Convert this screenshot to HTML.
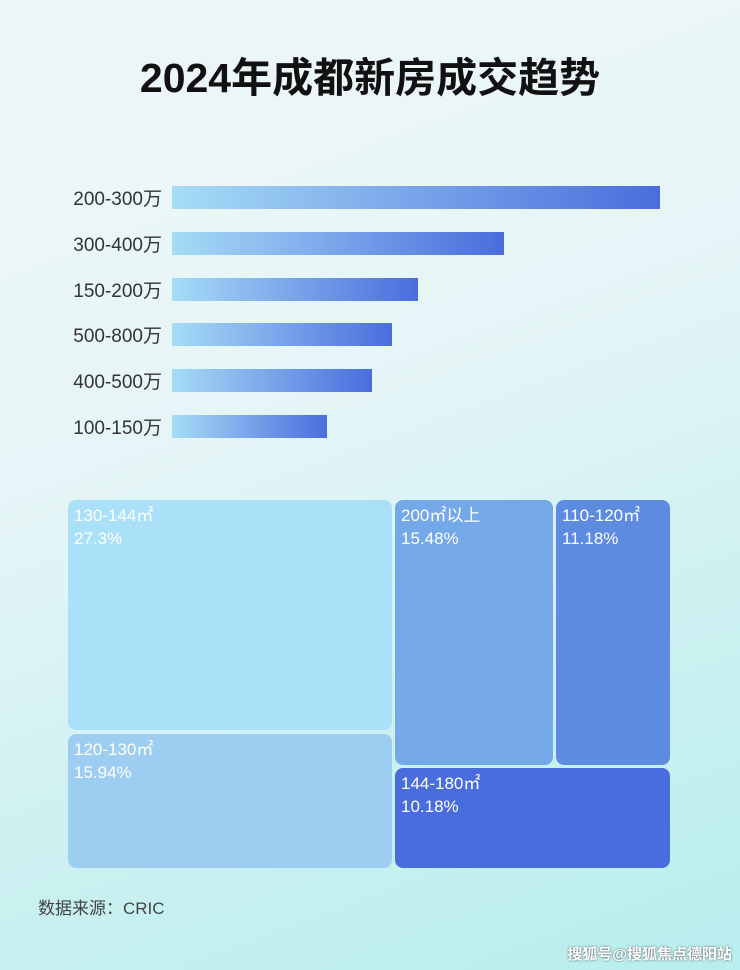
<!DOCTYPE html>
<html><head><meta charset="utf-8"><style>
body{margin:0;width:740px;height:970px;overflow:hidden;font-family:"Liberation Sans","Noto Sans CJK SC",sans-serif;
background:linear-gradient(160deg,#eef7f8 0%,#e6f5f7 40%,#c9f0f0 75%,#b8eeee 100%);position:relative}
.t{position:absolute;left:0;width:740px;top:44px;text-align:center;font-size:41px;font-weight:bold;color:#111}
.lb{position:absolute;left:40px;width:122px;text-align:right;font-size:19px;color:#333;margin-top:-3px}
.bar{position:absolute;left:172px;height:23px;background:linear-gradient(90deg,#a6dcf6,#4a6ddd)}
.b{position:absolute;border-radius:8px;color:#fff;font-size:17px;line-height:23px;padding:4px 0 0 6px;box-sizing:border-box}
.s{position:absolute;left:38px;top:894px;font-size:17px;color:#444}
.w{position:absolute;right:8px;bottom:6px;font-size:15px;color:#fff;font-weight:bold;text-shadow:0 0 2px #555}
</style></head><body>
<div class="t">2024年成都新房成交趋势</div>
<div class="lb" style="top:187px">200-300万</div><div class="bar" style="top:186px;width:488px"></div>
<div class="lb" style="top:233px">300-400万</div><div class="bar" style="top:232px;width:332px"></div>
<div class="lb" style="top:279px">150-200万</div><div class="bar" style="top:278px;width:246px"></div>
<div class="lb" style="top:324px">500-800万</div><div class="bar" style="top:323px;width:220px"></div>
<div class="lb" style="top:370px">400-500万</div><div class="bar" style="top:369px;width:200px"></div>
<div class="lb" style="top:416px">100-150万</div><div class="bar" style="top:415px;width:155px"></div>
<div class="b" style="left:68px;top:500px;width:324px;height:230px;background:#abe1f8">130-144㎡<br>27.3%</div>
<div class="b" style="left:68px;top:734px;width:324px;height:134px;background:#9dcdf0">120-130㎡<br>15.94%</div>
<div class="b" style="left:395px;top:500px;width:158px;height:265px;background:#74a8e8">200㎡以上<br>15.48%</div>
<div class="b" style="left:556px;top:500px;width:114px;height:265px;background:#5d8be0">110-120㎡<br>11.18%</div>
<div class="b" style="left:395px;top:768px;width:275px;height:100px;background:#4a6ddd">144-180㎡<br>10.18%</div>
<div class="s">数据来源：CRIC</div>
<div class="w">搜狐号@搜狐焦点德阳站</div>
</body></html>
